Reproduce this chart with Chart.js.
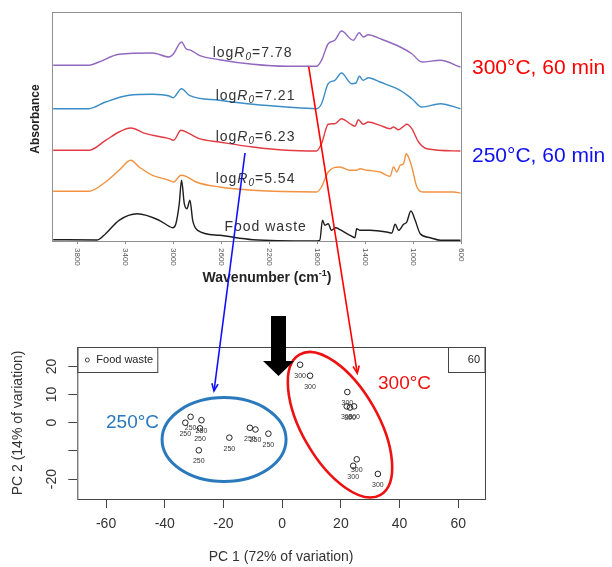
<!DOCTYPE html>
<html>
<head>
<meta charset="utf-8">
<script src="https://cdn.jsdelivr.net/npm/chart.js@4.4.1/dist/chart.umd.min.js"></script>
<style>
  body { margin: 0; background: #fff; }
  #wrap { position: relative; width: 612px; height: 567px; }
  canvas { position: absolute; left: 0; top: 0; }
</style>
</head>
<body>
<div id="wrap">
  <canvas id="ftirChart" width="612" height="567"></canvas>
  <canvas id="pcaChart" width="612" height="567"></canvas>
</div>
<script>
// FTIR spectra, stacked (wavenumber cm-1 / absorbance in arbitrary units incl. offset)
const foodWn  = [4000, 3633, 3563, 3451, 3298, 3116, 3033, 3005, 2977, 2949, 2930, 2907, 2885, 2860, 2837, 2796, 2614, 2335, 1833, 1777, 1755, 1735, 1707, 1680, 1644, 1610, 1526, 1484, 1470, 1442, 1359, 1219, 1177, 1149, 1121, 1079, 1052, 1018, 982, 940, 856, 772, 605];
const foodAbs = [1.3, 1, 7.3, 20.7, 27.3, 20.7, 14.7, 13.3, 17.3, 37.3, 60.7, 37.3, 32.3, 40.7, 20.7, 10.7, 5.7, 1.3, 0, 0.7, 20.7, 15.7, 17.3, 10.7, 13.3, 11.3, 5.7, 3.3, 12.3, 10.7, 10.7, 9, 8, 16.7, 10.7, 16.7, 19, 30, 20.7, 7.3, 3.3, 0.7, 0.7];

const r554Wn  = [4000, 3702, 3563, 3451, 3354, 3284, 3172, 3033, 2996, 2935, 2893, 2809, 2614, 2335, 1805, 1763, 1707, 1610, 1526, 1470, 1442, 1387, 1275, 1191, 1163, 1135, 1107, 1079, 1057, 1038, 1010, 968, 912, 661, 605];
const r554Abs = [49.7, 49.7, 59, 70.7, 80.7, 74, 65.7, 60.7, 59, 65.7, 64.7, 59, 54, 50.7, 49, 54, 69, 74, 70.7, 70.7, 72.3, 70.7, 69, 64.7, 74, 69, 75.7, 77.3, 87.3, 84, 74, 54, 49, 49, 48];

const r623Wn  = [4000, 3702, 3563, 3451, 3354, 3228, 3033, 2996, 2935, 2865, 2782, 2614, 2335, 2056, 1805, 1763, 1707, 1652, 1596, 1526, 1484, 1456, 1415, 1373, 1275, 1191, 1163, 1121, 1079, 1052, 1010, 954, 884, 605];
const r623Abs = [90.7, 90.7, 100.7, 109, 113, 107.3, 102.3, 100.7, 110.7, 107.3, 102.3, 99, 94, 90.7, 90, 97.3, 116.7, 117.3, 122.3, 117.3, 114.7, 121.3, 116.7, 119, 115.7, 112.3, 114, 111.3, 114.7, 116.7, 112.3, 99, 92.3, 90];

const r721Wn  = [4000, 3702, 3563, 3368, 3172, 3033, 3000, 2930, 2865, 2614, 2335, 2056, 1805, 1763, 1707, 1652, 1596, 1512, 1476, 1448, 1415, 1373, 1275, 1107, 1010, 926, 772, 605];
const r721Abs = [132.3, 132.3, 139, 145.7, 146.7, 145, 143.3, 152.3, 145.7, 140.7, 136.7, 134, 132.3, 137.3, 157.3, 160.7, 168, 157.3, 158, 164.7, 160.7, 163.3, 159, 150.7, 142.3, 134, 137.3, 132.3];

const r778Wn  = [4000, 3702, 3619, 3451, 3172, 3033, 3000, 2930, 2893, 2851, 2782, 2614, 2335, 2056, 1805, 1763, 1707, 1652, 1596, 1498, 1448, 1415, 1373, 1275, 1107, 1010, 926, 772, 605];
const r778Abs = [175.7, 175.7, 179, 186.7, 188, 184, 186.7, 199, 192.3, 190.7, 185.7, 181.3, 176.7, 174.7, 174.7, 180.7, 197.3, 200.7, 210, 200.7, 208.3, 204, 206.3, 202.3, 194, 187.3, 179, 180.7, 174];

const ftirTicks = [3800, 3400, 3000, 2600, 2200, 1800, 1400, 1000, 600];
const logR0 = [5.54, 6.23, 7.21, 7.78];

// PCA scores
const pc250x = [-33.0, -31.2, -27.5, -28.0, -28.4, -18.0, -11.0, -9.1, -4.7];
const pc250y = [0.0, 2.1, 0.9, -2.0, -9.8, -5.3, -1.8, -2.4, -3.9];
const pc300x = [6.1, 9.5, 22.2, 22.0, 23.1, 24.5, 25.4, 24.2, 32.6];
const pc300y = [20.6, 16.7, 10.9, 5.8, 5.4, 5.8, -13.0, -15.3, -18.2];
const pcXTicks = [-60, -40, -20, 0, 20, 40, 60];
const pcYTicks = [-20, -10, 0, 10, 20];
const pcYLabels = ['-20', '', '0', '10', '20'];

const SANS = '"Liberation Sans", Arial, sans-serif';

function toXY(xs, ys) {
    return xs.map((v, i) => ({ x: v, y: ys[i] }));
}

function spectrum(wn, ab, color) {
    return { data: toXY(wn, ab), borderColor: color, borderWidth: 1.4, pointRadius: 0, cubicInterpolationMode: 'monotone', fill: false };
}

function drawLogR(ctx, val, cx, by) {
    const parts = [
        ['log', '14px ' + SANS, 0],
        ['R', 'italic 14px ' + SANS, 0],
        ['0', 'italic 10px ' + SANS, 3],
        ['=' + val.toFixed(2), '14px ' + SANS, 0]
    ];
    let w = 0;
    parts.forEach(p => { ctx.font = p[1]; w += ctx.measureText(p[0]).width; });
    let x = cx - w / 2;
    parts.forEach(p => {
        ctx.font = p[1];
        ctx.fillText(p[0], x, by + p[2]);
        x += ctx.measureText(p[0]).width;
    });
}

// axes, labels and side notes of the spectra panel
const ftirDecor = {
    id: 'ftirDecor',
    afterDraw(chart) {
        const { ctx, chartArea: a, scales: { x, y } } = chart;
        ctx.save();
        ctx.strokeStyle = '#8f8f8f';
        ctx.lineWidth = 1;
        ctx.strokeRect(a.left + 0.5, a.top + 0.5, a.right - a.left, a.bottom - a.top);

        ctx.fillStyle = '#555';
        ctx.font = '8px ' + SANS;
        ftirTicks.forEach(t => {
            const px = Math.round(x.getPixelForValue(t)) + 0.5;
            ctx.beginPath();
            ctx.moveTo(px, a.bottom);
            ctx.lineTo(px, a.bottom + 3);
            ctx.stroke();
            ctx.save();
            ctx.translate(px, a.bottom + 7);
            ctx.rotate(Math.PI / 2);
            ctx.textAlign = 'left';
            ctx.textBaseline = 'middle';
            ctx.fillText(String(t), 0, 0);
            ctx.restore();
        });

        // axis titles
        ctx.fillStyle = '#222';
        ctx.save();
        ctx.translate(36, 119);
        ctx.rotate(-Math.PI / 2);
        ctx.font = 'bold 12px ' + SANS;
        ctx.textAlign = 'center';
        ctx.textBaseline = 'middle';
        ctx.fillText('Absorbance', 0, 0);
        ctx.restore();

        ctx.textBaseline = 'alphabetic';
        ctx.textAlign = 'left';
        const t1 = 'Wavenumber (cm', t2 = '-1', t3 = ')';
        ctx.font = 'bold 14px ' + SANS;
        const w1 = ctx.measureText(t1).width, w3 = ctx.measureText(t3).width;
        ctx.font = 'bold 9px ' + SANS;
        const w2 = ctx.measureText(t2).width;
        let tx = 267 - (w1 + w2 + w3) / 2;
        ctx.font = 'bold 14px ' + SANS;
        ctx.fillText(t1, tx, 282);
        ctx.font = 'bold 9px ' + SANS;
        ctx.fillText(t2, tx + w1, 276);
        ctx.font = 'bold 14px ' + SANS;
        ctx.fillText(t3, tx + w1 + w2, 282);

        // spectrum labels
        ctx.fillStyle = '#333';
        ctx.letterSpacing = '1px';
        const labelWn = [2313, 2313, 2313, 2338];
        const labelAb = [58, 100, 141, 184];
        logR0.forEach((v, i) => drawLogR(ctx, v, x.getPixelForValue(labelWn[i]), y.getPixelForValue(labelAb[i])));
        ctx.font = '14px ' + SANS;
        ctx.textAlign = 'center';
        ctx.fillText('Food waste', x.getPixelForValue(2229), y.getPixelForValue(10));
        ctx.letterSpacing = '0px';

        // conditions
        ctx.textAlign = 'left';
        ctx.textBaseline = 'middle';
        ctx.font = '21px ' + SANS;
        ctx.fillStyle = '#ff0000';
        ctx.fillText('300°C, 60 min', 472, 68);
        ctx.fillStyle = '#1010ee';
        ctx.fillText('250°C, 60 min', 472, 156);
        ctx.restore();
    }
};

new Chart(document.getElementById('ftirChart'), {
    type: 'line',
    data: {
        datasets: [
            spectrum(foodWn, foodAbs, '#1e1e1e'),
            spectrum(r554Wn, r554Abs, '#f2913f'),
            spectrum(r623Wn, r623Abs, '#e23b43'),
            spectrum(r721Wn, r721Abs, '#3a8dc6'),
            spectrum(r778Wn, r778Abs, '#9268bf')
        ]
    },
    options: {
        responsive: false,
        animation: false,
        layout: { padding: { left: 52, top: 12, right: 151, bottom: 326 } },
        plugins: { legend: { display: false }, tooltip: { enabled: false } },
        scales: {
            x: { type: 'linear', reverse: true, min: 600, max: 4010, display: false },
            y: { type: 'linear', min: 0, max: 229, display: false }
        }
    },
    plugins: [ftirDecor]
});

function arrowHead(ctx, x0, y0, x1, y1, len) {
    const ang = Math.atan2(y1 - y0, x1 - x0);
    ctx.beginPath();
    ctx.moveTo(x1 - len * Math.cos(ang - 0.4), y1 - len * Math.sin(ang - 0.4));
    ctx.lineTo(x1, y1);
    ctx.lineTo(x1 - len * Math.cos(ang + 0.4), y1 - len * Math.sin(ang + 0.4));
    ctx.stroke();
}

// frame, legend boxes, point labels and the drawn annotations of the PCA panel
const pcaDecor = {
    id: 'pcaDecor',
    afterDraw(chart) {
        const { ctx, chartArea: a, scales: { x, y } } = chart;
        ctx.save();
        ctx.strokeStyle = '#444';
        ctx.lineWidth = 1;
        ctx.strokeRect(a.left + 0.5, a.top + 0.5, a.right - a.left, a.bottom - a.top);

        // rotated y tick labels (R style)
        ctx.fillStyle = '#333';
        ctx.font = '14px ' + SANS;
        ctx.textAlign = 'center';
        ctx.textBaseline = 'middle';
        pcYTicks.forEach((t, i) => {
            ctx.save();
            ctx.translate(52, y.getPixelForValue(t));
            ctx.rotate(-Math.PI / 2);
            ctx.fillText(pcYLabels[i], 0, 0);
            ctx.restore();
        });

        // point labels
        ctx.font = '7px ' + SANS;
        ctx.fillStyle = '#333';
        chart.data.datasets.forEach((ds, di) => {
            chart.getDatasetMeta(di).data.forEach(pt => {
                ctx.fillText(ds.label, pt.x, pt.y + 11);
            });
        });

        // legend boxes
        ctx.strokeStyle = '#444';
        ctx.strokeRect(a.left + 0.5, a.top + 0.5, 80, 25);
        ctx.strokeRect(448.5, a.top + 0.5, a.right - 448.5, 25);
        ctx.beginPath();
        ctx.arc(a.left + 10, a.top + 13, 2, 0, Math.PI * 2);
        ctx.stroke();
        ctx.fillStyle = '#222';
        ctx.textAlign = 'left';
        ctx.font = '11px ' + SANS;
        ctx.fillText('Food waste', a.left + 19, a.top + 13);
        ctx.textAlign = 'right';
        ctx.fillText('60', a.right - 5, a.top + 13);

        // cluster ellipses
        ctx.lineWidth = 3;
        ctx.strokeStyle = '#2a79bd';
        ctx.beginPath();
        ctx.ellipse(x.getPixelForValue(-19.8), y.getPixelForValue(-6.0), 62, 42, 0, 0, Math.PI * 2);
        ctx.stroke();
        ctx.strokeStyle = '#ee1111';
        ctx.lineWidth = 2.6;
        ctx.beginPath();
        ctx.ellipse(x.getPixelForValue(19.7), y.getPixelForValue(-0.7), 81, 38, 60 * Math.PI / 180, 0, Math.PI * 2);
        ctx.stroke();

        ctx.textAlign = 'left';
        ctx.textBaseline = 'middle';
        ctx.font = '19px ' + SANS;
        ctx.fillStyle = '#2a79bd';
        ctx.fillText('250°C', 106, 423);
        ctx.fillStyle = '#ee1111';
        ctx.fillText('300°C', 378, 384);

        // arrows linking spectra to clusters
        ctx.lineWidth = 1.6;
        ctx.strokeStyle = '#1010ff';
        ctx.beginPath();
        ctx.moveTo(245, 153);
        ctx.lineTo(214, 391);
        ctx.stroke();
        arrowHead(ctx, 245, 153, 214, 391, 8);
        ctx.strokeStyle = '#ff0000';
        ctx.beginPath();
        ctx.moveTo(308.7, 66.7);
        ctx.lineTo(357.3, 373.3);
        ctx.stroke();
        arrowHead(ctx, 308.7, 66.7, 357.3, 373.3, 8);

        // block arrow
        ctx.fillStyle = '#000';
        ctx.beginPath();
        ctx.moveTo(271, 316);
        ctx.lineTo(286, 316);
        ctx.lineTo(286, 361);
        ctx.lineTo(294, 361);
        ctx.lineTo(278.5, 376);
        ctx.lineTo(263, 361);
        ctx.lineTo(271, 361);
        ctx.closePath();
        ctx.fill();
        ctx.restore();
    }
};

new Chart(document.getElementById('pcaChart'), {
    type: 'scatter',
    data: {
        datasets: [
            { label: '250', data: toXY(pc250x, pc250y) },
            { label: '300', data: toXY(pc300x, pc300y) }
        ]
    },
    options: {
        responsive: false,
        animation: false,
        layout: { padding: { left: 0, top: 347, right: 127, bottom: 0 } },
        plugins: { legend: { display: false }, tooltip: { enabled: false } },
        elements: { point: { radius: 2.8, borderWidth: 1, borderColor: '#222', backgroundColor: 'rgba(0,0,0,0)' } },
        scales: {
            x: {
                type: 'linear', min: -69.8, max: 69.1, position: 'bottom',
                afterBuildTicks: s => { s.ticks = pcXTicks.map(v => ({ value: v })); },
                afterFit: s => { s.height = 68; },
                border: { display: false },
                grid: { drawOnChartArea: false, drawTicks: true, tickLength: 9, color: '#444' },
                ticks: { font: { family: SANS, size: 14 }, color: '#333', padding: 8, maxRotation: 0 },
                title: { display: true, text: 'PC 1 (72% of variation)', font: { family: SANS, size: 14 }, color: '#333', padding: { top: 0, bottom: 1 } }
            },
            y: {
                type: 'linear', min: -27.1, max: 26.9,
                afterBuildTicks: s => { s.ticks = pcYTicks.map(v => ({ value: v })); },
                afterFit: s => { s.width = 77.3; },
                border: { display: false },
                grid: { drawOnChartArea: false, drawTicks: true, tickLength: 9, color: '#444' },
                ticks: { display: false },
                title: { display: true, text: 'PC 2 (14% of variation)', font: { family: SANS, size: 14 }, color: '#333', padding: { top: 9.6, bottom: 0 } }
            }
        }
    },
    plugins: [pcaDecor]
});
</script>
</body>
</html>
